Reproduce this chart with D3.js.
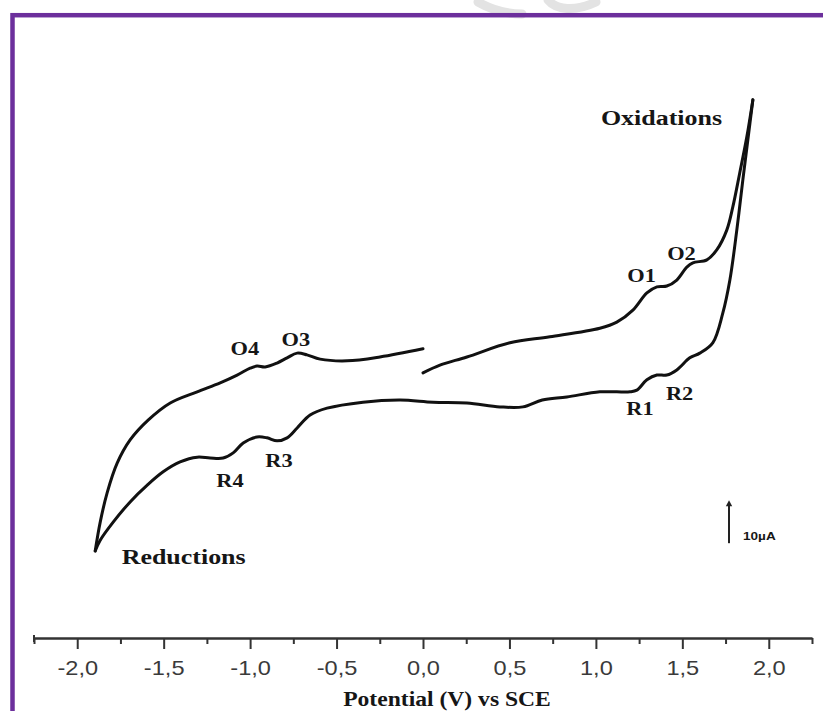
<!DOCTYPE html>
<html>
<head>
<meta charset="utf-8">
<script src="https://cdn.jsdelivr.net/npm/d3@7"></script>
<style>
  html, body { margin: 0; padding: 0; background: #ffffff; }
  svg { display: block; }
</style>
</head>
<body>
<svg id="chart" width="823" height="711"></svg>
<script>
// ---------- data (potential in V vs SCE, current in µA, arbitrary offset) ----------
// anodic scan from 0 V up to the positive vertex
const forwardV = [0.00, 0.098, 0.254, 0.503, 0.734, 1.023, 1.121, 1.214, 1.295, 1.353, 1.410, 1.468, 1.526, 1.561, 1.642, 1.699, 1.757, 1.792, 1.832, 1.873, 1.908];
const forwardI = [6.3, 8.1, 10.0, 13.3, 14.7, 16.7, 18.1, 20.9, 24.9, 26.3, 26.5, 27.9, 30.9, 31.9, 32.6, 34.9, 39.5, 44.9, 52.8, 61.2, 69.8];
// cathodic scan from the positive vertex down to the negative vertex
const reverseV = [1.908, 1.879, 1.850, 1.815, 1.775, 1.734, 1.676, 1.601, 1.543, 1.468, 1.410, 1.353, 1.295, 1.237, 1.197, 1.023, 0.832, 0.690, 0.578, 0.445, 0.254, 0.058, -0.133, -0.347, -0.555, -0.653, -0.728, -0.786, -0.844, -0.902, -0.960, -1.040, -1.098, -1.156, -1.231, -1.306, -1.405, -1.503, -1.595, -1.694, -1.792, -1.867, -1.896];
const reverseI = [69.8, 60.5, 51.2, 39.5, 27.9, 20.2, 13.3, 10.9, 9.8, 7.0, 5.8, 5.8, 4.7, 2.3, 1.9, 1.9, 0.7, 0.0, -1.6, -1.6, -0.7, -0.5, 0.0, -0.5, -1.9, -3.5, -6.5, -8.8, -9.5, -8.8, -8.6, -10.0, -12.3, -13.5, -13.5, -13.3, -14.4, -16.7, -19.8, -23.7, -28.4, -32.6, -35.1];
// anodic scan from the negative vertex back to 0 V
const returnV = [-1.896, -1.867, -1.827, -1.769, -1.694, -1.590, -1.462, -1.306, -1.173, -1.075, -1.000, -0.960, -0.913, -0.844, -0.786, -0.728, -0.671, -0.595, -0.439, -0.249, 0.000];
const returnI = [-35.1, -28.4, -21.6, -14.7, -9.3, -4.7, -0.7, 1.9, 4.0, 5.8, 7.4, 7.9, 7.7, 8.6, 9.8, 10.9, 10.5, 9.5, 9.1, 10.0, 11.9];

// x-axis ticks
const majorTicks = [-2.0, -1.5, -1.0, -0.5, 0.0, 0.5, 1.0, 1.5, 2.0];
const minorTicks = [-2.25, -1.75, -1.25, -0.75, -0.25, 0.25, 0.75, 1.25, 1.75, 2.25];
const tickLabels = ["-2,0", "-1,5", "-1,0", "-0,5", "0,0", "0,5", "1,0", "1,5", "2,0"];
const xTitle = "Potential (V) vs SCE";

// peak labels: text, potential, current
const peakNames = ["O1", "O2", "O3", "O4", "R1", "R2", "R3", "R4"];
const peakV = [1.264, 1.495, -0.735, -1.030, 1.255, 1.484, -0.833, -1.116];
const peakI = [27.4, 32.6, 12.6, 10.5, -3.5, 0.0, -15.6, -20.2];
const regionNames = ["Oxidations", "Reductions"];
const regionV = [1.029, -1.743];
const regionI = [64.0, -38.1];

// scale bar
const scaleBarValue = 10;            // µA
const scaleBarBase = [1.770, -33.3]; // potential, current of bar foot
const scaleBarLabel = "10µA";

// ---------- layout ----------
const svg = d3.select("#chart");
const SX = 1.18; // horizontal stretch of the original picture

const x = d3.scaleLinear().domain([-2.25, 2.25]).range([34, 812]);
const y = d3.scaleLinear().domain([-40, 80]).range([572, 56]);

// watermark ghost strokes
svg.append("path")
  .attr("d", "M478,2 C492,10 505,14 522,14")
  .attr("fill", "none").attr("stroke", "#e3e3e3").attr("stroke-width", 9).attr("stroke-linecap", "round");
svg.append("path")
  .attr("d", "M548,0 C556,10 575,12 596,2")
  .attr("fill", "none").attr("stroke", "#e3e3e3").attr("stroke-width", 9).attr("stroke-linecap", "round");

// purple frame
svg.append("rect")
  .attr("x", 12.5).attr("y", 15.2)
  .attr("width", 900).attr("height", 900)
  .attr("fill", "none")
  .attr("stroke", "#6c2f9c")
  .attr("stroke-width", 4.5);

// ---------- curves ----------
const line = d3.line()
  .x(d => x(d[0]))
  .y(d => y(d[1]))
  .curve(d3.curveCatmullRom.alpha(0.5));

const segments = [
  d3.zip(forwardV, forwardI),
  d3.zip(reverseV, reverseI),
  d3.zip(returnV, returnI)
];

svg.append("g").selectAll("path")
  .data(segments)
  .join("path")
  .attr("d", line)
  .attr("fill", "none")
  .attr("stroke", "#111")
  .attr("stroke-width", 3)
  .attr("stroke-linejoin", "round")
  .attr("stroke-linecap", "round");

// ---------- labels ----------
function stretchedText(g, px, py, txt, size, family, weight, anchor) {
  const t = g.append("g").attr("transform", `translate(${px},${py}) scale(${SX},1)`);
  return t.append("text")
    .attr("x", 0).attr("y", 0)
    .attr("text-anchor", anchor || "start")
    .attr("font-family", family)
    .attr("font-weight", weight)
    .attr("font-size", size)
    .attr("fill", "#161616")
    .text(txt);
}

const serif = "'Liberation Serif','Times New Roman',serif";
const sans = "'Liberation Sans',Arial,sans-serif";

const lab = svg.append("g");
peakNames.forEach((n, i) => {
  stretchedText(lab, x(peakV[i]), y(peakI[i]), n, 19, serif, "bold", "middle");
});
regionNames.forEach((n, i) => {
  stretchedText(lab, x(regionV[i]), y(regionI[i]), n, 22, serif, "bold", "start");
});

// ---------- scale bar ----------
const sbx = x(scaleBarBase[0]);
const sby0 = y(scaleBarBase[1]);
const sby1 = y(scaleBarBase[1] + scaleBarValue);
svg.append("line")
  .attr("x1", sbx).attr("x2", sbx)
  .attr("y1", sby0).attr("y2", sby1 + 4)
  .attr("stroke", "#222").attr("stroke-width", 2);
svg.append("path")
  .attr("d", `M${sbx - 3.2},${sby1 + 6} L${sbx},${sby1} L${sbx + 3.2},${sby1 + 6} Z`)
  .attr("fill", "#222");
stretchedText(svg, sbx + 14, sby0 - 3, scaleBarLabel, 11.5, sans, "bold", "start");

// ---------- x axis ----------
const axisY = 638;
const minorAxis = svg.append("g")
  .attr("transform", `translate(0,${axisY})`)
  .call(d3.axisBottom(x).tickValues(minorTicks).tickSize(6).tickSizeOuter(0).tickFormat(""));
minorAxis.select(".domain").remove();
minorAxis.selectAll(".tick line").attr("stroke", "#333").attr("stroke-width", 2);

const majorAxis = svg.append("g")
  .attr("transform", `translate(0,${axisY})`)
  .call(d3.axisBottom(x).tickValues(majorTicks).tickSize(11).tickSizeOuter(0)
        .tickFormat((d, i) => tickLabels[i]));
majorAxis.select(".domain").attr("stroke", "#333").attr("stroke-width", 2.6);
majorAxis.selectAll(".tick line").attr("stroke", "#333").attr("stroke-width", 2);
majorAxis.selectAll(".tick text")
  .attr("y", 37).attr("dy", 0)
  .attr("transform", `scale(${SX},1)`)
  .attr("font-family", sans)
  .attr("font-size", 20)
  .attr("fill", "#3a3a3a");

// small end mark at the left end of the axis
svg.append("line")
  .attr("x1", x(-2.25)).attr("x2", x(-2.25))
  .attr("y1", axisY - 3).attr("y2", axisY + 4)
  .attr("stroke", "#333").attr("stroke-width", 2);

// axis title
stretchedText(svg, 447, 706, xTitle, 20, serif, "bold", "middle");
</script>
</body>
</html>
